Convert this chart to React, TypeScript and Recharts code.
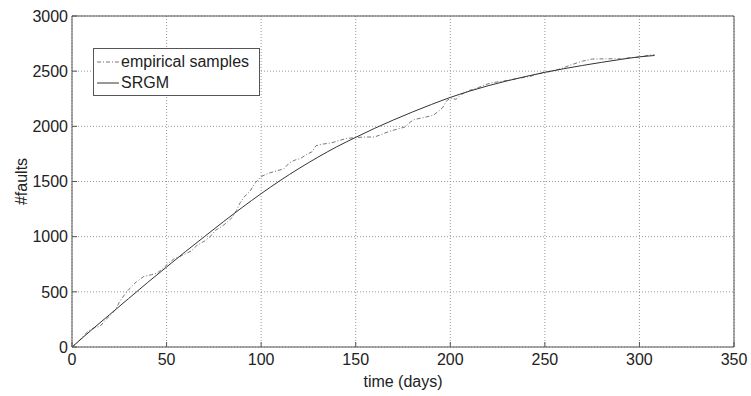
import { LineChart, Line, XAxis, YAxis, CartesianGrid } from "recharts";

// empirical cumulative fault counts
const empiricalDays = [
  0, 3, 6, 9, 12, 15, 18, 21, 23, 25, 28, 31, 34, 38, 42, 45, 48, 51, 54, 57,
  60, 63, 66, 70, 73, 76, 79, 82, 85, 87, 89, 91, 94, 97, 100, 104, 108, 112,
  115, 118, 121, 124, 127, 129, 133, 137, 141, 145, 150, 155, 160, 164, 168,
  172, 176, 179, 181, 186, 191, 194, 196, 198, 200, 203, 206, 210, 214, 218,
  222, 228, 235, 242, 247, 251, 255, 259, 263, 267, 270, 275, 282, 290, 295,
  300, 304, 308,
];
const empiricalFaults = [
  0, 40, 100, 150, 175, 190, 250, 300, 340, 405, 480, 540, 590, 640, 655, 670,
  710, 760, 800, 820, 845, 870, 920, 960, 1000, 1060, 1090, 1130, 1180, 1240,
  1310, 1360, 1410, 1490, 1545, 1575, 1595, 1615, 1670, 1695, 1710, 1745,
  1770, 1825, 1840, 1850, 1870, 1890, 1898, 1903, 1903, 1930, 1955, 1975,
  1994, 2040, 2062, 2080, 2100, 2140, 2170, 2230, 2255, 2245, 2290, 2325,
  2345, 2375, 2395, 2410, 2432, 2452, 2477, 2490, 2505, 2525, 2552, 2575,
  2591, 2610, 2612, 2612, 2622, 2627, 2642, 2650,
];

// fitted SRGM curve
const srgmDays = [
  0, 10, 20, 30, 40, 50, 60, 70, 80, 90, 100, 110, 120, 130, 140, 150, 160,
  170, 180, 190, 200, 210, 220, 230, 240, 250, 260, 270, 280, 290, 300, 308,
];
const srgmFaults = [
  0, 150, 295, 440, 585, 725, 865, 1000, 1135, 1265, 1390, 1508, 1618, 1720,
  1815, 1900, 1982, 2058, 2130, 2198, 2262, 2318, 2368, 2412, 2452, 2490,
  2522, 2552, 2580, 2606, 2630, 2642,
];

const dayTicks = [0, 50, 100, 150, 200, 250, 300, 350];
const faultTicks = [0, 500, 1000, 1500, 2000, 2500, 3000];

const empirical = empiricalDays.map((d, i) => ({ day: d, faults: empiricalFaults[i] }));
const srgm = srgmDays.map((d, i) => ({ day: d, faults: srgmFaults[i] }));

const FONT = "'Liberation Sans', Arial, Helvetica, sans-serif";
const AXIS = "#555";
const tickStyle = { fill: "#222", fontSize: 16, fontFamily: FONT };

function YLabel(props: any) {
  const vb = props.viewBox;
  const x = vb.x + 9;
  const y = vb.y + vb.height / 2;
  return (
    <text
      x={x}
      y={y}
      transform={`rotate(-90, ${x}, ${y})`}
      textAnchor="middle"
      dominantBaseline="central"
      fill="#222"
      fontSize={16}
      fontFamily={FONT}
    >
      #faults
    </text>
  );
}

function LegendBox() {
  const row = { display: "flex", alignItems: "center", height: 21 } as const;
  return (
    <div
      style={{
        position: "absolute",
        left: 93,
        top: 48,
        width: 165,
        height: 44,
        border: `1px solid ${AXIS}`,
        background: "#fff",
        fontFamily: FONT,
        fontSize: 16,
        color: "#222",
        paddingTop: 2,
        boxSizing: "content-box",
      }}
    >
      <div style={row}>
        <svg width={24} height={10} style={{ marginLeft: 3 }}>
          <line x1={0} y1={5} x2={22} y2={5} stroke="#777" strokeDasharray="4 2 1 2" />
        </svg>
        <span>empirical samples</span>
      </div>
      <div style={row}>
        <svg width={24} height={10} style={{ marginLeft: 3 }}>
          <line x1={0} y1={5} x2={22} y2={5} stroke="#333" />
        </svg>
        <span>SRGM</span>
      </div>
    </div>
  );
}

export default function App() {
  return (
    <div
      style={{
        position: "absolute",
        left: 0,
        top: 0,
        width: 751,
        height: 396,
        background: "#fff",
      }}
    >
      <LineChart
        width={751}
        height={396}
        margin={{ top: 15, right: 16, bottom: 4, left: 12 }}
      >
        <CartesianGrid stroke="#999" strokeDasharray="1 2" />
        <XAxis
          dataKey="day"
          type="number"
          domain={[0, 350]}
          ticks={dayTicks}
          height={45}
          stroke={AXIS}
          tick={tickStyle}
          tickSize={-5}
          tickMargin={12}
          label={{
            value: "time (days)",
            position: "insideBottom",
            offset: 5,
            fill: "#222",
            fontSize: 16,
            fontFamily: FONT,
          }}
        />
        <XAxis
          xAxisId="top"
          orientation="top"
          dataKey="day"
          type="number"
          domain={[0, 350]}
          ticks={dayTicks}
          height={1}
          stroke={AXIS}
          tick={false}
          tickSize={-5}
        />
        <YAxis
          type="number"
          domain={[0, 3000]}
          ticks={faultTicks}
          width={60}
          stroke={AXIS}
          tick={tickStyle}
          tickSize={-5}
          tickMargin={9}
          label={{ content: YLabel }}
        />
        <YAxis
          yAxisId="right"
          orientation="right"
          type="number"
          domain={[0, 3000]}
          ticks={faultTicks}
          width={1}
          stroke={AXIS}
          tick={false}
          tickSize={-5}
        />
        <Line
          data={empirical}
          dataKey="faults"
          type="linear"
          stroke="#777"
          strokeWidth={1}
          strokeDasharray="4 2 1 2"
          dot={false}
          isAnimationActive={false}
        />
        <Line
          data={srgm}
          dataKey="faults"
          type="monotone"
          stroke="#333"
          strokeWidth={1}
          dot={false}
          isAnimationActive={false}
        />
      </LineChart>
      <LegendBox />
    </div>
  );
}
